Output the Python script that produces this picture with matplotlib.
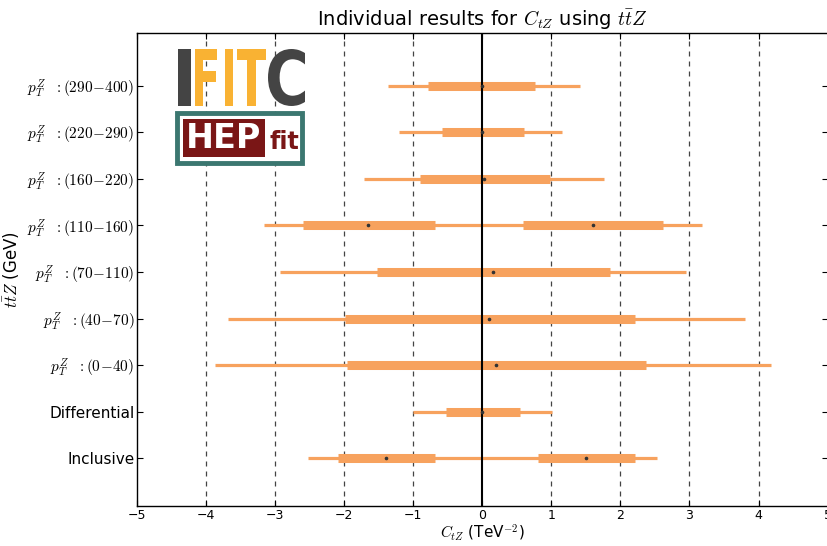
import matplotlib
matplotlib.use("Agg")
import matplotlib.pyplot as plt
from matplotlib.patches import Rectangle, PathPatch
from matplotlib.textpath import TextPath
from matplotlib.font_manager import FontProperties
from matplotlib.transforms import Affine2D

# rows from bottom to top
categories = ['Inclusive', 'Differential',
              r'$p_T^Z\ \ :(0\!-\!40)$', r'$p_T^Z\ \ :(40\!-\!70)$', r'$p_T^Z\ \ :(70\!-\!110)$',
              r'$p_T^Z\ \ :(110\!-\!160)$', r'$p_T^Z\ \ :(160\!-\!220)$',
              r'$p_T^Z\ \ :(220\!-\!290)$', r'$p_T^Z\ \ :(290\!-\!400)$']

# 95% intervals
outer_lo = [-2.53, -1.01, -3.87, -3.68, -2.93, -3.16, -1.71, -1.21, -1.36]
outer_hi = [2.53, 1.01, 4.18, 3.80, 2.95, 3.18, 1.76, 1.16, 1.42]

# 68% intervals (two for the bimodal rows)
inner = [[(-2.09, -0.69), (0.80, 2.21)],
         [(-0.53, 0.55)],
         [(-1.96, 2.37)],
         [(-1.99, 2.21)],
         [(-1.53, 1.85)],
         [(-2.60, -0.68), (0.59, 2.62)],
         [(-0.90, 0.98)],
         [(-0.59, 0.61)],
         [(-0.79, 0.77)]]

# best fit points
best = [[-1.39, 1.50], [0.0], [0.20], [0.10], [0.16], [-1.65, 1.60], [0.03], [0.0], [0.0]]

xticks = [-5, -4, -3, -2, -1, 0, 1, 2, 3, 4, 5]

plt.rcParams['mathtext.fontset'] = 'cm'
orange = '#f7a25e'

fig = plt.figure(figsize=(8.28, 5.46), dpi=100)
ax = fig.add_axes([0.1655, 0.0733, 0.834, 0.8663])

ypos = list(range(len(categories)))

for x in xticks[1:-1]:
    if x != 0:
        ax.axvline(x, color='#444444', ls=(0, (4, 4)), lw=0.9, zorder=1)
ax.axvline(0, color='black', lw=1.5, zorder=4)

ax.hlines(ypos, outer_lo, outer_hi, color=orange, lw=2.3, zorder=2)
for y, segs in zip(ypos, inner):
    lo = [s[0] for s in segs]
    hi = [s[1] for s in segs]
    ax.hlines([y] * len(segs), lo, hi, color=orange, lw=6.5, zorder=3)
for y, pts in zip(ypos, best):
    ax.plot(pts, [y] * len(pts), 'o', color='#333333', ms=1.6, zorder=5)

ax.set_xlim(-5, 5)
ax.set_ylim(-1.02, 9.13)
ax.set_xticks(xticks)
ax.set_xticklabels([f'{t}'.replace('-', '\u2212') for t in xticks], fontsize=9)
ax.set_yticks(ypos)
ax.set_yticklabels(categories, fontsize=11)
ax.tick_params(direction='in', top=True, right=True, length=4, width=0.8, pad=2)
for s in ax.spines.values():
    s.set_linewidth(1.0)

ax.set_xlabel(r'$C_{tZ}$ (TeV$^{-2}$)', fontsize=11, labelpad=1)
ax.set_ylabel(r'$t\bar{t}Z$ (GeV)', fontsize=12)
ax.yaxis.set_label_coords(-0.166, 0.5)
ax.set_title(r'Individual results for $C_{tZ}$ using $t\bar{t}Z$', fontsize=14, pad=5)

# logos (IFIC and HEPfit), placed in pixel coordinates
W, H = 828.0, 546.0
def fx(px):
    return px / W
def fy(py):
    return 1 - py / H

bold = FontProperties(family='DejaVu Sans', weight='bold')
def logo_word(s, x0, x1, ytop, ybot, color):
    path = TextPath((0, 0), s, size=50, prop=bold)
    bb = path.get_extents()
    tr = (Affine2D().translate(-bb.x0, -bb.y0)
          .scale((x1 - x0) / bb.width, (ybot - ytop) / bb.height)
          .translate(x0, H - ybot))
    fig.add_artist(PathPatch(path, transform=tr, facecolor=color, edgecolor='none'))

logo_word('I', 178, 191, 49, 106, '#444444')
logo_word('FIT', 195, 266, 49, 106, '#f9b233')
logo_word('C', 268, 305, 49, 106, '#444444')

fig.patches.append(Rectangle((fx(177), fy(163)), fx(302) - fx(177), fy(113) - fy(163),
                             transform=fig.transFigure, facecolor='white',
                             edgecolor='#3b7770', lw=3.5, zorder=5))
fig.patches.append(Rectangle((fx(183), fy(157)), fx(265) - fx(183), fy(119) - fy(157),
                             transform=fig.transFigure, facecolor='#7a1616',
                             edgecolor='none', zorder=6))
fig.text(fx(224), fy(138), 'HEP', color='white', fontsize=24, fontweight='bold',
         va='center', ha='center', zorder=7)
fig.text(fx(284), fy(142), 'fit', color='#7a1616', fontsize=17, fontweight='bold',
         va='center', ha='center', zorder=7)

fig.savefig('out.png', dpi=100)
